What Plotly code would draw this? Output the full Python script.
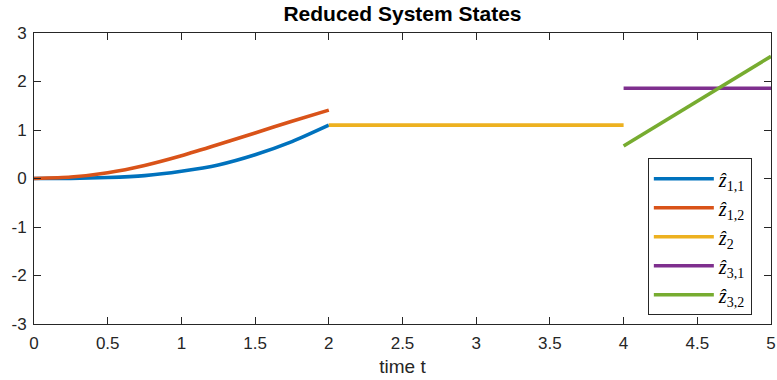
import plotly.graph_objects as go

# ---- data ----
t1 = [0, 0.25, 0.5, 0.75, 1.0, 1.25, 1.5, 1.75, 2.0]
z11 = [0, 0.003, 0.02, 0.06, 0.15, 0.28, 0.49, 0.76, 1.1]
z12 = [0, 0.03, 0.12, 0.27, 0.47, 0.70, 0.94, 1.18, 1.41]
t2 = [2.0, 4.0]
z2 = [1.1, 1.1]
t3 = [4.0, 5.0]
z31 = [1.86, 1.86]
z32 = [0.67, 2.52]

names = ["<i>ẑ</i><sub>1,1</sub>", "<i>ẑ</i><sub>1,2</sub>", "<i>ẑ</i><sub>2</sub>",
         "<i>ẑ</i><sub>3,1</sub>", "<i>ẑ</i><sub>3,2</sub>"]
colors = ["#0072BD", "#D95319", "#EDB120", "#7E2F8E", "#77AC30"]

x_ticks = [0, 0.5, 1, 1.5, 2, 2.5, 3, 3.5, 4, 4.5, 5]
x_labels = ["0", "0.5", "1", "1.5", "2", "2.5", "3", "3.5", "4", "4.5", "5"]
y_ticks = [-3, -2, -1, 0, 1, 2, 3]
y_labels = ["-3", "-2", "-1", "0", "1", "2", "3"]

series = [(t1, z11), (t1, z12), (t2, z2), (t3, z31), (t3, z32)]

fig = go.Figure()
for (xs, ys), nm, c in zip(series, names, colors):
    fig.add_trace(go.Scatter(x=xs, y=ys, mode="lines", name=nm, cliponaxis=False,
                             line=dict(color=c, width=3.6, shape="spline", smoothing=0.6)))

axis_common = dict(showgrid=False, zeroline=False, showline=True, linecolor="#262626",
                   linewidth=1, mirror="ticks", ticks="inside", ticklen=7, automargin=False,
                   tickcolor="#262626", tickfont=dict(family="Liberation Sans, Arial", size=17, color="#262626"))

fig.update_layout(
    width=777, height=380,
    margin=dict(l=34, r=6, t=33, b=56),
    paper_bgcolor="white", plot_bgcolor="white",
    title=dict(text="<b>Reduced System States</b>", x=0.5, xref="paper", y=0.983, yanchor="top",
               font=dict(family="Liberation Sans, Arial", size=21, color="black")),
    xaxis=dict(range=[0, 5], tickvals=x_ticks, ticktext=x_labels, ticklabelstandoff=4,
               title=dict(text="time t", font=dict(family="Liberation Sans, Arial", size=19, color="#262626"), standoff=7),
               **axis_common),
    yaxis=dict(range=[-3, 3], tickvals=y_ticks, ticktext=y_labels, ticklabelstandoff=3, **axis_common),
    legend=dict(x=0.974, y=0.03, xanchor="right", yanchor="bottom",
                bordercolor="#262626", borderwidth=1, bgcolor="white",
                font=dict(family="Liberation Serif, DejaVu Serif", size=20, color="black"),
                itemwidth=60, tracegroupgap=0),
    showlegend=True,
)

fig.write_html("out.html", config={"displayModeBar": False},
               post_script="document.body.style.margin='0';document.body.style.overflow='hidden';")
